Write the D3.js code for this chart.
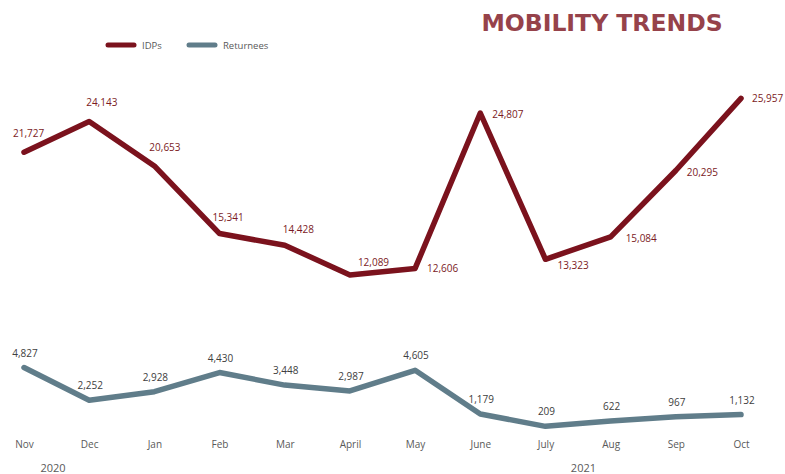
<!DOCTYPE html>
<html>
<head>
<meta charset="utf-8">
<script src="https://cdn.jsdelivr.net/npm/d3@7"></script>
<style>
    html, body { margin: 0; padding: 0; background: #ffffff; }
    svg { display: block; font-family: "Open Sans", "Liberation Sans", sans-serif; }
</style>
</head>
<body>
<div id="chart"></div>
<script>
const months = ['Nov', 'Dec', 'Jan', 'Feb', 'Mar', 'April', 'May', 'June', 'July', 'Aug', 'Sep', 'Oct'];
const idps = [21727, 24143, 20653, 15341, 14428, 12089, 12606, 24807, 13323, 15084, 20295, 25957];
const returnees = [4827, 2252, 2928, 4430, 3448, 2987, 4605, 1179, 209, 622, 967, 1132];
const years = [{ label: '2020', month: 'Nov' }, { label: '2021', month: 'July' }];

const WIDTH = 785;
const HEIGHT = 474;
const IDP_COLOR = '#7b121d';
const RET_COLOR = '#607d8a';

// label nudges for the IDP series (left edge / baseline offsets from the point)
const idpLabelOffset = [
    [-11, -15], [-3, -15], [-5, -15], [-7, -13], [-2, -12], [8, -9],
    [12, 4], [12, 5], [12, 10], [15, 5], [11, 6], [11, 4]
];

const svg = d3.select('#chart')
    .append('svg')
    .attr('width', WIDTH)
    .attr('height', HEIGHT);

const x = d3.scalePoint()
    .domain(months)
    .range([24, 741]);

const y = d3.scaleLinear()
    .domain([0, 26000])
    .range([429, 97.8]);

const fmt = d3.format(',');

// title
svg.append('text')
    .attr('x', 602)
    .attr('y', 31)
    .attr('text-anchor', 'middle')
    .attr('font-family', '"DejaVu Sans", Verdana, sans-serif')
    .attr('font-weight', 'bold')
    .attr('font-size', 23.5)
    .attr('fill', '#96424a')
    .text('MOBILITY TRENDS');

// legend
const legendItems = [
    { name: 'IDPs', color: IDP_COLOR, x: 106 },
    { name: 'Returnees', color: RET_COLOR, x: 187 }
];
const legend = svg.append('g').attr('class', 'legend');
legend.selectAll('line')
    .data(legendItems)
    .join('line')
    .attr('x1', (d) => d.x + 2)
    .attr('x2', (d) => d.x + 28)
    .attr('y1', 45)
    .attr('y2', 45)
    .attr('stroke', (d) => d.color)
    .attr('stroke-width', 5)
    .attr('stroke-linecap', 'round');
legend.selectAll('text')
    .data(legendItems)
    .join('text')
    .attr('x', (d) => d.x + 36)
    .attr('y', 48.5)
    .attr('font-size', 9.5)
    .attr('fill', '#595959')
    .text((d) => d.name);

// x axis labels (no axis line)
const xAxis = svg.append('g')
    .attr('transform', 'translate(0,439)')
    .call(d3.axisBottom(x).tickSize(0).tickPadding(0));
xAxis.select('.domain').remove();
xAxis.selectAll('text')
    .attr('dy', '0.9em')
    .attr('font-family', '"Open Sans", sans-serif')
    .attr('font-size', 10)
    .attr('fill', '#595959');

svg.append('g')
    .selectAll('text')
    .data(years)
    .join('text')
    .attr('x', (d) => x(d.month) + (d.label === '2020' ? 29 : 38))
    .attr('y', 472)
    .attr('text-anchor', 'middle')
    .attr('font-size', 11)
    .attr('fill', '#595959')
    .text((d) => d.label);

const line = d3.line()
    .x((d, i) => x(months[i]))
    .y((d) => y(d));

const drawSeries = (values, color) => {
    svg.append('path')
        .datum(values)
        .attr('d', line)
        .attr('fill', 'none')
        .attr('stroke', color)
        .attr('stroke-width', 5.5)
        .attr('stroke-linecap', 'round')
        .attr('stroke-linejoin', 'round');
};

drawSeries(returnees, RET_COLOR);
drawSeries(idps, IDP_COLOR);

// returnee value labels, centred above each point
svg.append('g')
    .selectAll('text')
    .data(returnees)
    .join('text')
    .attr('x', (d, i) => x(months[i]) + 1)
    .attr('y', (d) => y(d) - 11)
    .attr('text-anchor', 'middle')
    .attr('font-size', 10)
    .attr('fill', '#404040')
    .text((d) => fmt(d));

// idp value labels
svg.append('g')
    .selectAll('text')
    .data(idps)
    .join('text')
    .attr('x', (d, i) => x(months[i]) + idpLabelOffset[i][0])
    .attr('y', (d, i) => y(d) + idpLabelOffset[i][1])
    .attr('font-size', 10)
    .attr('fill', '#7b1a24')
    .text((d) => fmt(d));
</script>
</body>
</html>
